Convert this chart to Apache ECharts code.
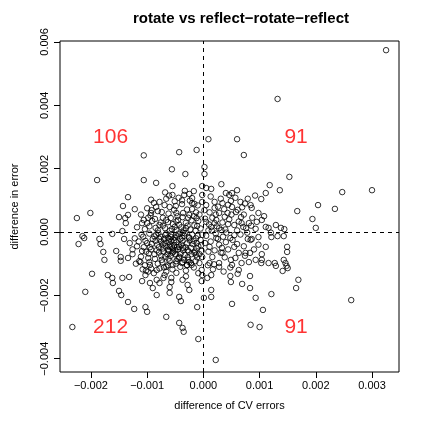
<!DOCTYPE html>
<html><head><meta charset="utf-8">
<script src="https://cdn.jsdelivr.net/npm/echarts@6/dist/echarts.min.js"></script>
<style>html,body{margin:0;padding:0;background:#fff}#c{width:430px;height:423px}</style>
</head><body><div id="c"></div><script>
// [difference of CV errors, difference in error]
const upperLeft = [
[-0.00043,0.00252],[-0.00012,0.00259],[-0.00106,0.00242],[-0.00056,0.00198],[-0.00189,0.00164],[-0.00106,0.00164],[-0.00084,0.00155],[-0.00134,0.00110],[-0.00143,0.00082],[-0.00201,0.00060],[-0.00225,0.00044],[-0.00150,0.00047],[-0.00139,0.00044],[-0.00134,0.00054],[-0.00138,0.00028],[-0.00144,0.00003],[-0.00109,0.00028],[-0.00100,0.00028],[-0.00092,0.00069],[-0.00078,0.00095],[-0.00084,0.00079],[-0.00093,0.00060],
[-0.00032,0.00183],[-0.00055,0.00145],[-0.00055,0.00117],[-0.00034,0.00117],[-0.00017,0.00129],[-0.00020,0.00107],[-0.00020,0.00091],[-0.00002,0.00145],[-0.00002,0.00117],[-0.00002,0.00095],[-0.00012,0.00044],[-0.00025,0.00054],[-0.00037,0.00047],[-0.00048,0.00060],[-0.00060,0.00079],[-0.00048,0.00006],
[-0.00068,0.00012],[-0.00063,0.00031],[-0.00078,0.00022],[-0.00072,0.00045],[-0.00054,0.00025],[-0.00045,0.00038],[-0.00039,0.00015],[-0.00031,0.00029],[-0.00023,0.00008],[-0.00016,0.00021],
[-0.00009,0.00035],[-0.00005,0.00011],[-0.00013,0.00062],[-0.00029,0.00071],[-0.00038,0.00088],[-0.00051,0.00097],[-0.00066,0.00105],[-0.00074,0.00063],[-0.00086,0.00041],[-0.00096,0.00018],
[-0.00104,0.00009],[-0.00118,0.00015],[-0.00091,0.00035],[-0.00081,0.00005],[-0.00060,0.00004],[-0.00051,0.00016],[-0.00035,0.00005],[-0.00027,0.00045],[-0.00020,0.00072],[-0.00010,0.00084],
[-0.00044,0.00108],[-0.00033,0.00130],[-0.00068,0.00125],[-0.00093,0.00102],[-0.00111,0.00055],[-0.00100,0.00075],[-0.00062,0.00058],[-0.00049,0.00082],[-0.00024,0.00099],[-0.00007,0.00055],
[-0.00076,0.00030],[-0.00058,0.00044],[-0.00043,0.00023],[-0.00014,0.00004],[-0.00069,0.00085],[-0.00085,0.00013],[-0.00094,0.00052],[-0.00106,0.00038],[-0.00036,0.00060],[-0.00021,0.00037],
[-0.00056,0.00009],[-0.00048,0.00033],[-0.00031,0.00012],[-0.00072,0.00020],[-0.00081,0.00066],[-0.00011,0.00019],[-0.00038,0.00100],[-0.00061,0.00115],[-0.00025,0.00120],[-0.00088,0.00092],
[-0.00122,0.00072],[-0.00052,0.00070],[-0.00017,0.00050],[-0.00066,0.00038],[-0.00046,0.00050],[-0.00028,0.00020],[-0.00098,0.00045],[-0.00016,0.00089]
];
const upperRight = [
[0.00325,0.00574],[0.00132,0.00420],[0.00009,0.00293],[0.00060,0.00293],[0.00072,0.00243],
[0.00002,0.00183],[0.00002,0.00205],[0.00032,0.00151],[0.00118,0.00148],[0.00136,0.00132],[0.00111,0.00123],[0.00103,0.00104],[0.00005,0.00139],[0.00014,0.00136],[0.00002,0.00069],[0.00020,0.00095],[0.00020,0.00076],[0.00040,0.00123],[0.00046,0.00117],[0.00051,0.00123],[0.00060,0.00132],[0.00066,0.00095],[0.00051,0.00079],[0.00034,0.00091],[0.00028,0.00060],[0.00043,0.00060],[0.00058,0.00063],[0.00067,0.00047],[0.00084,0.00085],[0.00086,0.00076],[0.00081,0.00028],[0.00095,0.00032],[0.00071,0.00016],[0.00111,0.00016],[0.00116,0.00013],[0.00129,0.00022],[0.00138,0.00013],[0.00032,0.00006],[0.00023,0.00038],[0.00014,0.00016],[0.00005,0.00032],
[0.00153,0.00174],[0.00247,0.00126],[0.00300,0.00132],[0.00204,0.00085],[0.00234,0.00073],[0.00167,0.00066],[0.00194,0.00041],[0.00200,0.00013],[0.00144,0.00009],
[0.00009,0.00005],[0.00016,0.00045],[0.00024,0.00018],[0.00034,0.00030],[0.00039,0.00008],[0.00046,0.00040],[0.00055,0.00022],[0.00060,0.00005],[0.00063,0.00033],[0.00072,0.00055],
[0.00076,0.00012],[0.00087,0.00045],[0.00093,0.00010],[0.00011,0.00062],[0.00005,0.00085],[0.00026,0.00080],[0.00037,0.00072],[0.00049,0.00098],[0.00057,0.00108],[0.00069,0.00078],
[0.00079,0.00105],[0.00031,0.00105],[0.00013,0.00112],[0.00044,0.00025],[0.00050,0.00055],[0.00038,0.00048],[0.00003,0.00042],[0.00020,0.00028],[0.00028,0.00012],[0.00068,0.00028],
[0.00098,0.00060],[0.00104,0.00038],[0.00085,0.00020],[0.00074,0.00090],[0.00061,0.00070],[0.00022,0.00055],[0.00010,0.00024],[0.00044,0.00086],[0.00092,0.00115],[0.00015,0.00004],[0.00108,0.00050]
];
const lowerRight = [
[0.00078,-0.00002],[0.00084,-0.00025],[0.00086,-0.00022],[0.00098,-0.00016],[0.00120,-0.00002],[0.00121,-0.00016],[0.00132,-0.00013],[0.00143,-0.00013],[0.00111,-0.00047],[0.00075,-0.00066],[0.00083,-0.00066],[0.00093,-0.00088],[0.00104,-0.00088],[0.00116,-0.00098],[0.00127,-0.00098],[0.00143,-0.00088],[0.00055,-0.00047],[0.00063,-0.00066],[0.00048,-0.00019],[0.00040,-0.00032],[0.00023,-0.00019],[0.00011,-0.00047],[0.00016,-0.00079],[0.00034,-0.00066],[0.00049,-0.00088],[0.00028,-0.00098],[0.00011,-0.00098],
[0.00149,-0.00047],[0.00149,-0.00063],[0.00146,-0.00098],[0.00148,-0.00107],[0.00150,-0.00114],[0.00141,-0.00123],[0.00169,-0.00151],[0.00165,-0.00177],[0.00263,-0.00215],
[0.00019,-0.00102],[0.00028,-0.00110],[0.00051,-0.00104],[0.00081,-0.00095],[0.00103,-0.00098],[0.00129,-0.00107],
[0.00007,-0.00145],[0.00014,-0.00136],[0.00014,-0.00183],[0.00014,-0.00205],[0.00001,-0.00208],[0.00048,-0.00139],[0.00061,-0.00132],[0.00083,-0.00139],[0.00049,-0.00158],[0.00069,-0.00164],[0.00083,-0.00177],[0.00051,-0.00227],[0.00093,-0.00208],[0.00121,-0.00196],[0.00106,-0.00246],[0.00084,-0.00293],[0.00100,-0.00300],[0.00022,-0.00404],
[0.00005,-0.00012],[0.00013,-0.00030],[0.00022,-0.00005],[0.00028,-0.00040],[0.00035,-0.00015],[0.00044,-0.00055],[0.00052,-0.00025],[0.00060,-0.00038],[0.00066,-0.00008],[0.00072,-0.00045],
[0.00009,-0.00062],[0.00020,-0.00058],[0.00038,-0.00080],[0.00057,-0.00082],[0.00068,-0.00098],[0.00003,-0.00035],[0.00031,-0.00065],[0.00048,-0.00112],[0.00017,-0.00118],[0.00090,-0.00055],
[0.00098,-0.00040],[0.00079,-0.00022],[0.00041,-0.00002],[0.00026,-0.00022],[0.00063,-0.00120],[0.00008,-0.00105],[0.00036,-0.00125],[0.00074,-0.00075],[0.00104,-0.00070],[0.00033,-0.00050],[0.00055,-0.00010]
];
const lowerLeft = [
[-0.00162,-0.00006],[-0.00215,-0.00013],[-0.00212,-0.00019],[-0.00222,-0.00038],[-0.00185,-0.00022],[-0.00183,-0.00038],[-0.00178,-0.00063],[-0.00176,-0.00088],[-0.00141,-0.00022],[-0.00155,-0.00060],[-0.00147,-0.00079],[-0.00134,-0.00082],
[-0.00002,-0.00009],[-0.00012,-0.00035],[-0.00025,-0.00019],[-0.00037,-0.00003],[-0.00057,-0.00016],[-0.00043,-0.00047],[-0.00028,-0.00057],[-0.00016,-0.00066],[-0.00002,-0.00079],[-0.00007,-0.00098],[-0.00025,-0.00095],[-0.00043,-0.00082],[-0.00055,-0.00066],[-0.00060,-0.00047],
[-0.00198,-0.00132],[-0.00170,-0.00136],[-0.00162,-0.00145],[-0.00161,-0.00161],[-0.00144,-0.00145],[-0.00132,-0.00142],[-0.00210,-0.00189],[-0.00150,-0.00186],[-0.00146,-0.00199],[-0.00134,-0.00221],[-0.00123,-0.00243],[-0.00103,-0.00237],[-0.00100,-0.00252],[-0.00066,-0.00268],[-0.00233,-0.00300],[-0.00109,-0.00155],[-0.00103,-0.00136],[-0.00095,-0.00161],[-0.00090,-0.00177],[-0.00083,-0.00199],[-0.00083,-0.00151],[-0.00078,-0.00161],[-0.00069,-0.00136],[-0.00060,-0.00174],[-0.00060,-0.00192],[-0.00057,-0.00158],[-0.00066,-0.00110],[-0.00083,-0.00120],[-0.00095,-0.00104],[-0.00112,-0.00095],[-0.00147,-0.00091],
[-0.00055,-0.00104],[-0.00038,-0.00098],[-0.00029,-0.00104],[-0.00021,-0.00104],[-0.00057,-0.00145],[-0.00037,-0.00151],[-0.00028,-0.00167],[-0.00025,-0.00183],[-0.00048,-0.00129],[-0.00003,-0.00120],[-0.00002,-0.00136],[-0.00003,-0.00155],[-0.00011,-0.00237],[-0.00043,-0.00205],[-0.00040,-0.00218],[-0.00043,-0.00287],[-0.00037,-0.00303],[-0.00035,-0.00315],[-0.00009,-0.00338],
[-0.00049,-0.00010],[-0.00057,-0.00028],[-0.00066,-0.00005],[-0.00041,-0.00022],[-0.00052,-0.00042],[-0.00069,-0.00035],[-0.00076,-0.00015],[-0.00034,-0.00012],[-0.00029,-0.00036],[-0.00045,-0.00055],
[-0.00061,-0.00060],[-0.00072,-0.00052],[-0.00082,-0.00040],[-0.00090,-0.00022],[-0.00063,-0.00018],[-0.00039,-0.00040],[-0.00024,-0.00027],[-0.00020,-0.00008],[-0.00013,-0.00020],[-0.00009,-0.00045],
[-0.00050,-0.00070],[-0.00068,-0.00078],[-0.00079,-0.00065],[-0.00093,-0.00055],[-0.00100,-0.00035],[-0.00107,-0.00015],[-0.00096,-0.00005],[-0.00085,-0.00028],[-0.00074,-0.00088],[-0.00060,-0.00092],
[-0.00046,-0.00085],[-0.00033,-0.00072],[-0.00022,-0.00050],[-0.00015,-0.00062],[-0.00005,-0.00025],[-0.00003,-0.00060],[-0.00011,-0.00080],[-0.00027,-0.00088],[-0.00036,-0.00058],[-0.00055,-0.00052],
[-0.00048,-0.00032],[-0.00059,-0.00040],[-0.00070,-0.00022],[-0.00079,-0.00048],[-0.00087,-0.00070],[-0.00098,-0.00082],[-0.00109,-0.00060],[-0.00115,-0.00030],[-0.00104,-0.00105],[-0.00093,-0.00115],
[-0.00081,-0.00100],[-0.00070,-0.00112],[-0.00055,-0.00118],[-0.00041,-0.00110],[-0.00031,-0.00122],[-0.00017,-0.00112],[-0.00009,-0.00130],[-0.00022,-0.00098],[-0.00037,-0.00095],[-0.00066,-0.00125],
[-0.00051,-0.00018],[-0.00062,-0.00030],[-0.00044,-0.00005],[-0.00037,-0.00028],[-0.00032,-0.00048],[-0.00067,-0.00045],[-0.00075,-0.00030],[-0.00084,-0.00008],[-0.00057,-0.00008],[-0.00047,-0.00048],
[-0.00054,-0.00062],[-0.00064,-0.00070],[-0.00075,-0.00075],[-0.00086,-0.00085],[-0.00096,-0.00095],[-0.00106,-0.00048],[-0.00118,-0.00045],[-0.00111,-0.00078],[-0.00102,-0.00062],[-0.00092,-0.00038],
[-0.00040,-0.00068],[-0.00026,-0.00062],[-0.00019,-0.00038],[-0.00010,-0.00012],[-0.00004,-0.00042],[-0.00014,-0.00092],[-0.00029,-0.00105],[-0.00049,-0.00100],[-0.00063,-0.00105],[-0.00078,-0.00115],
[-0.00088,-0.00130],[-0.00102,-0.00122],[-0.00120,-0.00100],[-0.00126,-0.00070],[-0.00122,-0.00020],[-0.00071,-0.00062],[-0.00058,-0.00075],[-0.00043,-0.00078],[-0.00028,-0.00080],[-0.00013,-0.00072],
[-0.00068,-0.00010],[-0.00060,-0.00022],[-0.00052,-0.00026],[-0.00046,-0.00014],[-0.00038,-0.00018],[-0.00033,-0.00004],[-0.00026,-0.00016],[-0.00017,-0.00028],[-0.00012,-0.00052],[-0.00021,-0.00070],
[-0.00034,-0.00088],[-0.00048,-0.00092],[-0.00062,-0.00084],[-0.00073,-0.00096],[-0.00083,-0.00058],[-0.00095,-0.00048],[-0.00103,-0.00028],[-0.00110,-0.00008],[-0.00080,-0.00004],[-0.00072,-0.00040],
[-0.00050,-0.00058],[-0.00044,-0.00040],[-0.00036,-0.00050],[-0.00056,-0.00046],[-0.00063,-0.00056],[-0.00078,-0.00022],[-0.00087,-0.00014],[-0.00097,-0.00068],[-0.00114,-0.00092],[-0.00108,-0.00118],
[-0.00131,-0.00035],[-0.00126,-0.00055],[-0.00031,-0.00140],[-0.00071,-0.00145],[-0.00098,-0.00125],[-0.00007,-0.00070]
];
const xTicks = [-0.002, -0.001, 0, 0.001, 0.002, 0.003];
const yTicks = [-0.004, -0.002, 0, 0.002, 0.004, 0.006];
const countLabels = ['106', '91', '212', '91'];
const countX = [-0.00165, 0.00165, -0.00165, 0.00165];
const countY = [0.003, 0.003, -0.003, -0.003];

const FONT = 'Liberation Sans';
const fmt = v => (Math.abs(v) < 1e-12 ? 0 : v).toFixed(3).replace('-', '\u2212');
const allPoints = upperLeft.concat(upperRight, lowerLeft, lowerRight);

const chart = echarts.init(document.getElementById('c'), null, {renderer: 'canvas'});
chart.setOption({
  animation: false,
  backgroundColor: '#fff',
  title: {
    text: 'rotate vs reflect\u2212rotate\u2212reflect',
    left: 236, top: 6, textAlign: 'center',
    textStyle: {fontFamily: FONT, fontSize: 15, fontWeight: 'bold', color: '#000'}
  },
  grid: {left: 60, right: 31, top: 41, bottom: 51, show: true, borderColor: '#000', borderWidth: 1, backgroundColor: 'transparent'},
  xAxis: {
    type: 'value', min: -0.00255, max: 0.00348,
    name: 'difference of CV errors', nameLocation: 'middle', nameGap: 28,
    nameTextStyle: {fontFamily: FONT, fontSize: 11, color: '#000'},
    axisLine: {show: false, onZero: false},
    axisTick: {show: true, inside: false, length: 6, customValues: xTicks, lineStyle: {color: '#000'}},
    axisLabel: {customValues: xTicks, formatter: fmt, margin: 8, fontFamily: FONT, fontSize: 11, color: '#000'},
    splitLine: {show: false}
  },
  yAxis: {
    type: 'value', min: -0.00442, max: 0.00603,
    name: 'difference in error', nameLocation: 'middle', nameGap: 40, nameRotate: 90,
    nameTextStyle: {fontFamily: FONT, fontSize: 11, color: '#000'},
    axisLine: {show: false, onZero: false},
    axisTick: {show: true, inside: false, length: 6, customValues: yTicks, lineStyle: {color: '#000'}},
    axisLabel: {customValues: yTicks, formatter: fmt, rotate: 90, margin: 10, fontFamily: FONT, fontSize: 11, color: '#000'},
    splitLine: {show: false}
  },
  series: [
    {
      type: 'scatter', data: allPoints, symbol: 'circle', symbolSize: 5.5,
      itemStyle: {color: 'rgba(0,0,0,0)', borderColor: '#000', borderWidth: 1},
      markLine: {
        silent: true, symbol: ['none', 'none'], label: {show: false},
        lineStyle: {type: [4, 4], color: '#000', width: 1},
        data: [{xAxis: 0}, {yAxis: 0}]
      }
    },
    {
      type: 'scatter', symbol: 'circle', symbolSize: 2,
      itemStyle: {color: 'rgba(0,0,0,0)'},
      data: countX.map((x, i) => ({value: [x, countY[i]], name: countLabels[i]})),
      label: {show: true, position: 'inside', formatter: p => p.name, color: '#ff0000', fontFamily: FONT, fontSize: 21}
    }
  ]
});
</script></body></html>
